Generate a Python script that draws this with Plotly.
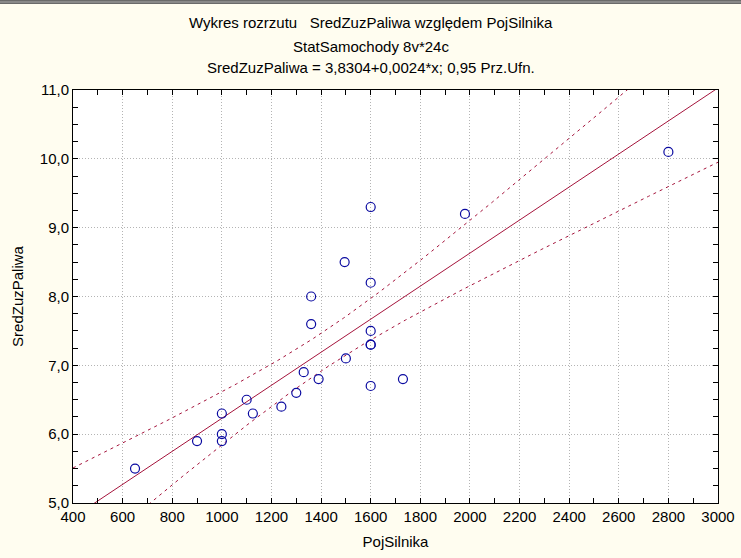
import numpy as np
import plotly.graph_objects as go

# ---- data ----
poj_silnika = [650, 900, 1000, 1000, 1000, 1100, 1125, 1240, 1300, 1330, 1390,
               1360, 1360, 1495, 1500, 1600, 1600, 1600, 1600, 1600, 1600, 1730,
               1980, 2800]
sred_zuz = [5.5, 5.9, 6.3, 6.0, 5.9, 6.5, 6.3, 6.4, 6.6, 6.9, 6.8,
            8.0, 7.6, 8.5, 7.1, 9.3, 8.2, 7.5, 7.3, 7.3, 6.7, 6.8,
            9.2, 10.1]
x_ticks = list(range(400, 3001, 200))
y_ticks = [5, 6, 7, 8, 9, 10, 11]
title_lines = ["Wykres rozrzutu   SredZuzPaliwa względem PojSilnika",
               "StatSamochody 8v*24c",
               "SredZuzPaliwa = 3,8304+0,0024*x; 0,95 Prz.Ufn."]
intercept = 3.8304   # from the chart's equation
slope = 0.0024
t_crit = 2.074       # t(0.975, df=22)

# ---- regression line and 95% confidence band ----
x = np.array(poj_silnika, float)
y = np.array(sred_zuz, float)
n = len(x)
resid = y - (intercept + slope * x)
s = np.sqrt(np.sum(resid ** 2) / (n - 2))
sxx = np.sum((x - x.mean()) ** 2)
xg = np.linspace(400, 3000, 261)
yg = intercept + slope * xg
half = t_crit * s * np.sqrt(1 / n + (xg - x.mean()) ** 2 / sxx)

W, H = 741, 558
ML, MR, MT, MB = 73, 23, 90, 55
PH = H - MT - MB
PW = W - ML - MR

line_col = "#A5143C"
font = "Liberation Sans, Arial, sans-serif"

fig = go.Figure()
fig.add_trace(go.Scatter(x=xg, y=yg + half, mode="lines",
                         line=dict(color=line_col, width=1, dash="3px,4px"),
                         hoverinfo="skip"))
fig.add_trace(go.Scatter(x=xg, y=yg - half, mode="lines",
                         line=dict(color=line_col, width=1, dash="3px,4px"),
                         hoverinfo="skip"))
fig.add_trace(go.Scatter(x=xg, y=yg, mode="lines",
                         line=dict(color=line_col, width=1)))
fig.add_trace(go.Scatter(x=poj_silnika, y=sred_zuz, mode="markers",
                         marker=dict(symbol="circle-open", size=9,
                                     color="#0A0AA0", line=dict(width=1.2))))

def ypaper(px):
    return 1 + (MT - px) / PH

cx = (371 - ML) / PW
for txt, yc in zip(title_lines, [22, 46, 68]):
    fig.add_annotation(text=txt, xref="paper", yref="paper", x=cx, y=ypaper(yc),
                       xanchor="center", yanchor="middle", showarrow=False,
                       font=dict(size=15, color="black", family=font))

# window border strip at top
fig.add_shape(type="rect", xref="paper", yref="paper",
              x0=-ML / PW, x1=1 + MR / PW, y0=ypaper(4), y1=ypaper(0),
              fillcolor="#6A6A6A", line=dict(width=0), layer="above")
fig.add_shape(type="line", xref="paper", yref="paper",
              x0=-ML / PW, x1=1 + MR / PW, y0=ypaper(2), y1=ypaper(2),
              line=dict(color="#A8A8A8", width=1), layer="above")

axis_common = dict(showline=True, linecolor="black", linewidth=1, mirror="allticks",
                   ticks="inside", ticklen=5, tickcolor="black", tickwidth=1,
                   showgrid=True, gridcolor="#B4B4B4", griddash="1px,2px", gridwidth=1,
                   zeroline=False, automargin=False,
                   tickfont=dict(size=15, color="black", family=font))

fig.update_layout(
    width=W, height=H,
    margin=dict(l=ML, r=MR, t=MT, b=MB),
    paper_bgcolor="#FFFDF0", plot_bgcolor="white",
    showlegend=False, separators=", ",
    xaxis=dict(range=[400, 3000], tickvals=x_ticks, tickformat=".0f",
               minor=dict(dtick=100, ticks="inside", ticklen=5, tickcolor="black",
                          showgrid=False),
               title=dict(text="PojSilnika", standoff=12,
                          font=dict(size=15, color="black", family=font)),
               **axis_common),
    yaxis=dict(range=[5, 11], tickvals=y_ticks, tickformat=".1f",
               minor=dict(dtick=0.25, ticks="inside", ticklen=5, tickcolor="black",
                          showgrid=False),
               title=dict(text="SredZuzPaliwa", standoff=12,
                          font=dict(size=15, color="black", family=font)),
               **axis_common),
)

fig.write_html("out.html")
